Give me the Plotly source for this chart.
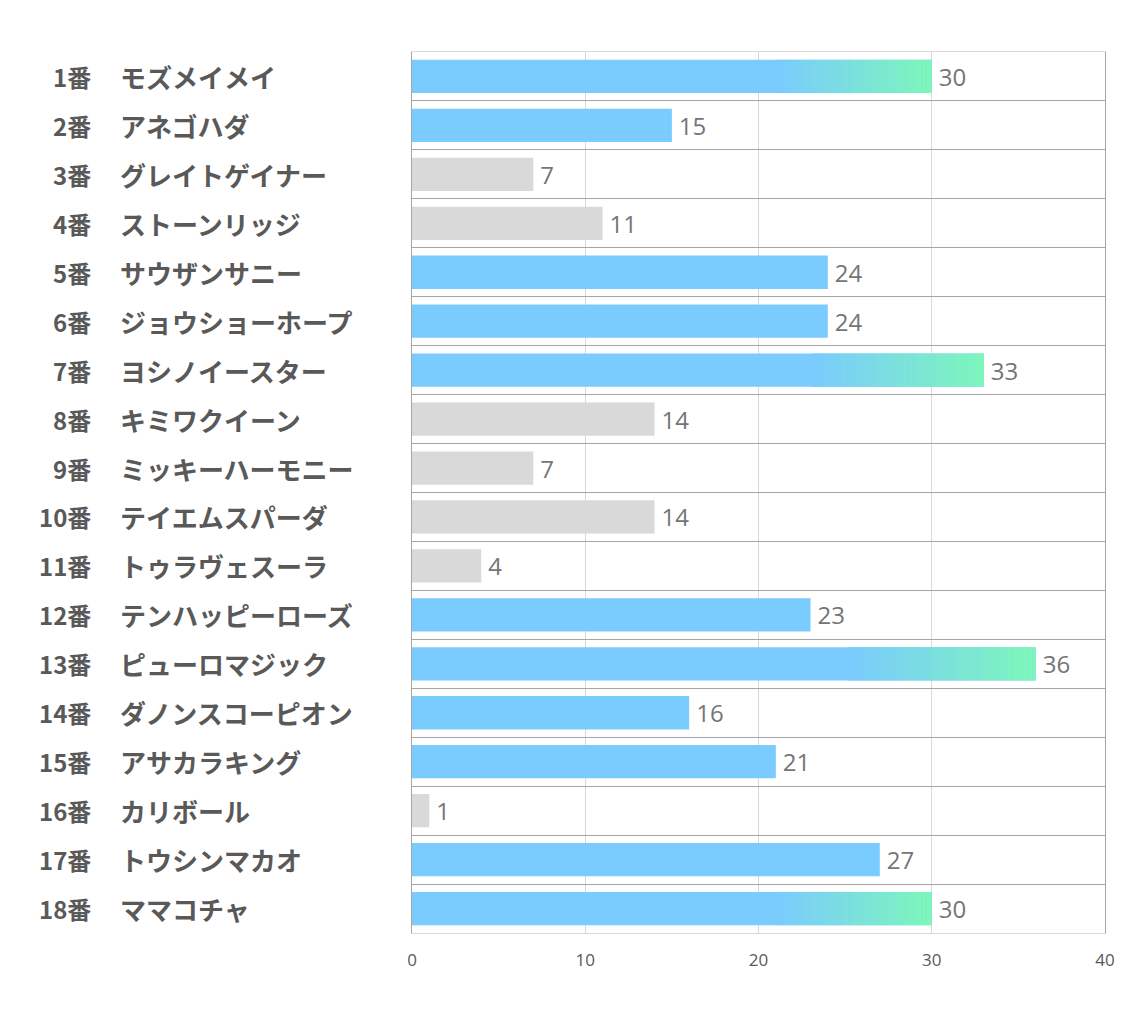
import plotly.graph_objects as go

numbers = ["1番", "2番", "3番", "4番", "5番", "6番", "7番", "8番", "9番", "10番",
           "11番", "12番", "13番", "14番", "15番", "16番", "17番", "18番"]
names = ["モズメイメイ", "アネゴハダ", "グレイトゲイナー", "ストーンリッジ", "サウザンサニー",
         "ジョウショーホープ", "ヨシノイースター", "キミワクイーン", "ミッキーハーモニー",
         "テイエムスパーダ", "トゥラヴェスーラ", "テンハッピーローズ", "ピューロマジック",
         "ダノンスコーピオン", "アサカラキング", "カリボール", "トウシンマカオ", "ママコチャ"]
values = [30, 15, 7, 11, 24, 24, 33, 14, 7, 14, 4, 23, 36, 16, 21, 1, 27, 30]
x_ticks = [0, 10, 20, 30, 40]

BLUE = (122, 203, 254)
GREEN = (125, 248, 184)
GRAY = "#D9D9D9"
HI_THRESHOLD = 15
GRAD_THRESHOLD = 30
GRAD_FRACTION = 0.3
N_SEG = 60

cats = numbers

bar_colors = ["rgb(%d,%d,%d)" % BLUE if v >= HI_THRESHOLD else GRAY for v in values]

fig = go.Figure()
fig.add_trace(go.Bar(
    y=cats, x=values, orientation="h",
    marker=dict(color=bar_colors, line=dict(width=0)),
    width=0.68,
    text=["\u2009" + str(v) for v in values], textposition="outside",
    textfont=dict(family="Open Sans", size=24, color="#757575"),
    cliponaxis=False, hoverinfo="skip",
))

gy, gx, gb, gc = [], [], [], []
for c, v in zip(cats, values):
    if v >= GRAD_THRESHOLD:
        start = v * (1 - GRAD_FRACTION)
        w = (v - start) / N_SEG
        for i in range(N_SEG):
            t = (i + 0.5) / N_SEG
            col = tuple(round(BLUE[k] + (GREEN[k] - BLUE[k]) * t) for k in range(3))
            gy.append(c)
            gx.append(w * 1.05 if i < N_SEG - 1 else w)
            gb.append(start + i * w)
            gc.append("rgb(%d,%d,%d)" % col)
fig.add_trace(go.Bar(
    y=gy, x=gx, base=gb, orientation="h",
    marker=dict(color=gc, line=dict(width=0)),
    width=0.68, hoverinfo="skip",
))

for n, nm in zip(numbers, names):
    fig.add_annotation(x=-0.461, y=n, xref="paper", yref="y", text=n,
                       showarrow=False, xanchor="right",
                       font=dict(family="Noto Sans CJK JP", size=24, color="#595959", weight="bold"))
    fig.add_annotation(x=-0.424, y=n, xref="paper", yref="y", text=nm,
                       showarrow=False, xanchor="left",
                       font=dict(family="Noto Sans CJK JP", size=26, color="#595959", weight="bold"))

fig.update_layout(
    width=1134, height=1020,
    margin=dict(l=404, r=37, t=44, b=95),
    plot_bgcolor="white", paper_bgcolor="white",
    barmode="overlay", showlegend=False,
    xaxis=dict(range=[0, 40], tickvals=x_ticks, showgrid=True, gridcolor="#D9D9D9",
               gridwidth=1, zeroline=False, showline=True, linecolor="#D9D9D9",
               mirror=True, ticks="outside", ticklen=12, tickcolor="rgba(0,0,0,0)",
               tickfont=dict(family="Open Sans", size=17, color="#595959")),
    yaxis=dict(categoryorder="array", categoryarray=cats, autorange="reversed",
               tickson="boundaries", showgrid=True, gridcolor="#A6A6A6", gridwidth=1,
               showticklabels=False, ticks="", showline=True, linecolor="#A6A6A6",
               mirror=True, zeroline=False),
)

fig.write_html("out.html")
